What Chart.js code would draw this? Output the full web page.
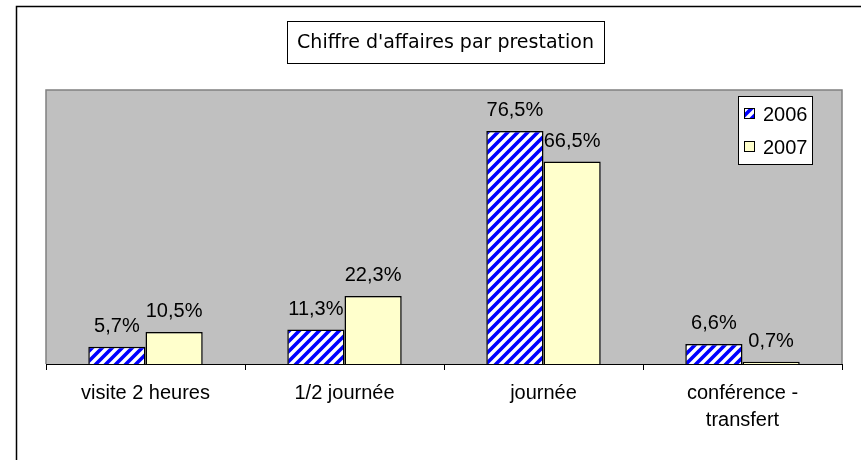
<!DOCTYPE html>
<html>
<head>
<meta charset="utf-8">
<script src="https://cdn.jsdelivr.net/npm/chart.js@4/dist/chart.umd.min.js"></script>
<style>
html,body{margin:0;padding:0;background:#fff;}
#wrap{width:861px;height:460px;position:relative;}
</style>
</head>
<body>
<div id="wrap"><canvas id="c" width="861" height="460"></canvas></div>
<script>
const chartTitle = "Chiffre d'affaires par prestation";
const categories = ["visite 2 heures", "1/2 journée", "journée", ["conférence -", "transfert"]];
const seriesNames = ["2006", "2007"];
const values2006 = [5.7, 11.3, 76.5, 6.6];
const values2007 = [10.5, 22.3, 66.5, 0.7];
const yMax = 90;

function makeStripe() {
  const s = 10;
  const c = document.createElement('canvas');
  c.width = s; c.height = s;
  const g = c.getContext('2d');
  g.fillStyle = '#ffffff';
  g.fillRect(0, 0, s, s);
  g.strokeStyle = '#0000ff';
  g.lineWidth = 3.6;
  g.beginPath();
  g.moveTo(-s/2, s/2); g.lineTo(s/2, -s/2);
  g.moveTo(0, s); g.lineTo(s, 0);
  g.moveTo(s/2, s*1.5); g.lineTo(s*1.5, s/2);
  g.stroke();
  return g.createPattern(c, 'repeat');
}
const stripe = makeStripe();
const fills = [stripe, '#FFFFCC'];
const FONT = '"Liberation Sans", Arial, sans-serif';

function fmt(v) { return v.toFixed(1).replace('.', ',') + '%'; }

const decor = {
  id: 'decor',
  beforeDraw(chart) {
    const ctx = chart.ctx, a = chart.chartArea;
    ctx.save();
    ctx.fillStyle = '#fff';
    ctx.fillRect(0, 0, chart.width, chart.height);
    ctx.strokeStyle = '#000'; ctx.lineWidth = 1.5;
    ctx.strokeRect(16.5, 6.5, 900, 500);
    ctx.fillStyle = '#C0C0C0';
    ctx.fillRect(a.left, a.top, a.right - a.left, a.bottom - a.top);
    ctx.strokeStyle = '#808080'; ctx.lineWidth = 1.5;
    ctx.beginPath();
    ctx.moveTo(a.left, a.bottom); ctx.lineTo(a.left, a.top);
    ctx.lineTo(a.right, a.top); ctx.lineTo(a.right, a.bottom);
    ctx.stroke();
    ctx.restore();
  },
  afterDraw(chart) {
    const ctx = chart.ctx, a = chart.chartArea;
    ctx.save();
    ctx.strokeStyle = '#000'; ctx.lineWidth = 1;
    ctx.beginPath(); ctx.moveTo(a.left, a.bottom + 0.5); ctx.lineTo(a.right, a.bottom + 0.5); ctx.stroke();
    // title box
    ctx.fillStyle = '#fff';
    ctx.fillRect(287, 21, 317, 42);
    ctx.strokeStyle = '#000'; ctx.lineWidth = 1;
    ctx.strokeRect(287.5, 21.5, 317, 42);
    ctx.fillStyle = '#000';
    ctx.font = '19px "Comic Sans MS", "DejaVu Sans", sans-serif';
    ctx.textAlign = 'center'; ctx.textBaseline = 'middle';
    ctx.fillText(chartTitle, 445.5, 43);
    // data labels
    ctx.font = '20px ' + FONT;
    ctx.textBaseline = 'alphabetic';
    chart.data.datasets.forEach((ds, i) => {
      const meta = chart.getDatasetMeta(i);
      meta.data.forEach((bar, j) => {
        ctx.fillText(fmt(ds.data[j]), bar.x, bar.y - 15);
      });
    });
    // legend
    ctx.fillStyle = '#fff';
    ctx.fillRect(738, 96, 74, 68);
    ctx.strokeStyle = '#000'; ctx.lineWidth = 1;
    ctx.strokeRect(738.5, 96.5, 74, 68);
    const ys = [114, 147];
    ctx.textAlign = 'left'; ctx.textBaseline = 'middle';
    seriesNames.forEach((n, i) => {
      ctx.fillStyle = fills[i];
      ctx.fillRect(745, ys[i] - 5, 9, 9);
      ctx.strokeStyle = '#000'; ctx.lineWidth = 1;
      ctx.strokeRect(744.5, ys[i] - 5.5, 10, 10);
      ctx.fillStyle = '#000';
      ctx.font = '20px ' + FONT;
      ctx.fillText(n, 763, ys[i] + 1);
    });
    ctx.restore();
  }
};

new Chart(document.getElementById('c'), {
  type: 'bar',
  data: {
    labels: categories,
    datasets: [
      { label: seriesNames[0], data: values2006, backgroundColor: stripe, borderColor: '#000', borderWidth: 1.5 },
      { label: seriesNames[1], data: values2007, backgroundColor: '#FFFFCC', borderColor: '#000', borderWidth: 1.5 }
    ]
  },
  options: {
    responsive: false,
    animation: false,
    devicePixelRatio: 1,
    layout: { padding: { left: 46, right: 19, top: 90, bottom: 0 } },
    datasets: { bar: { categoryPercentage: 0.575, barPercentage: 1 } },
    plugins: { legend: { display: false }, title: { display: false }, tooltip: { enabled: false } },
    scales: {
      y: { display: false, min: 0, max: yMax },
      x: {
        offset: true,
        grid: { display: true, drawOnChartArea: false, drawTicks: true, tickLength: 6, color: '#000', offset: true },
        border: { display: false },
        ticks: { color: '#000', padding: 10, maxRotation: 0, autoSkip: false,
          font: { family: FONT, size: 20, lineHeight: 1.35 } },
        afterFit(s) { s.height = 96; }
      }
    }
  },
  plugins: [decor]
});
</script>
</body>
</html>
